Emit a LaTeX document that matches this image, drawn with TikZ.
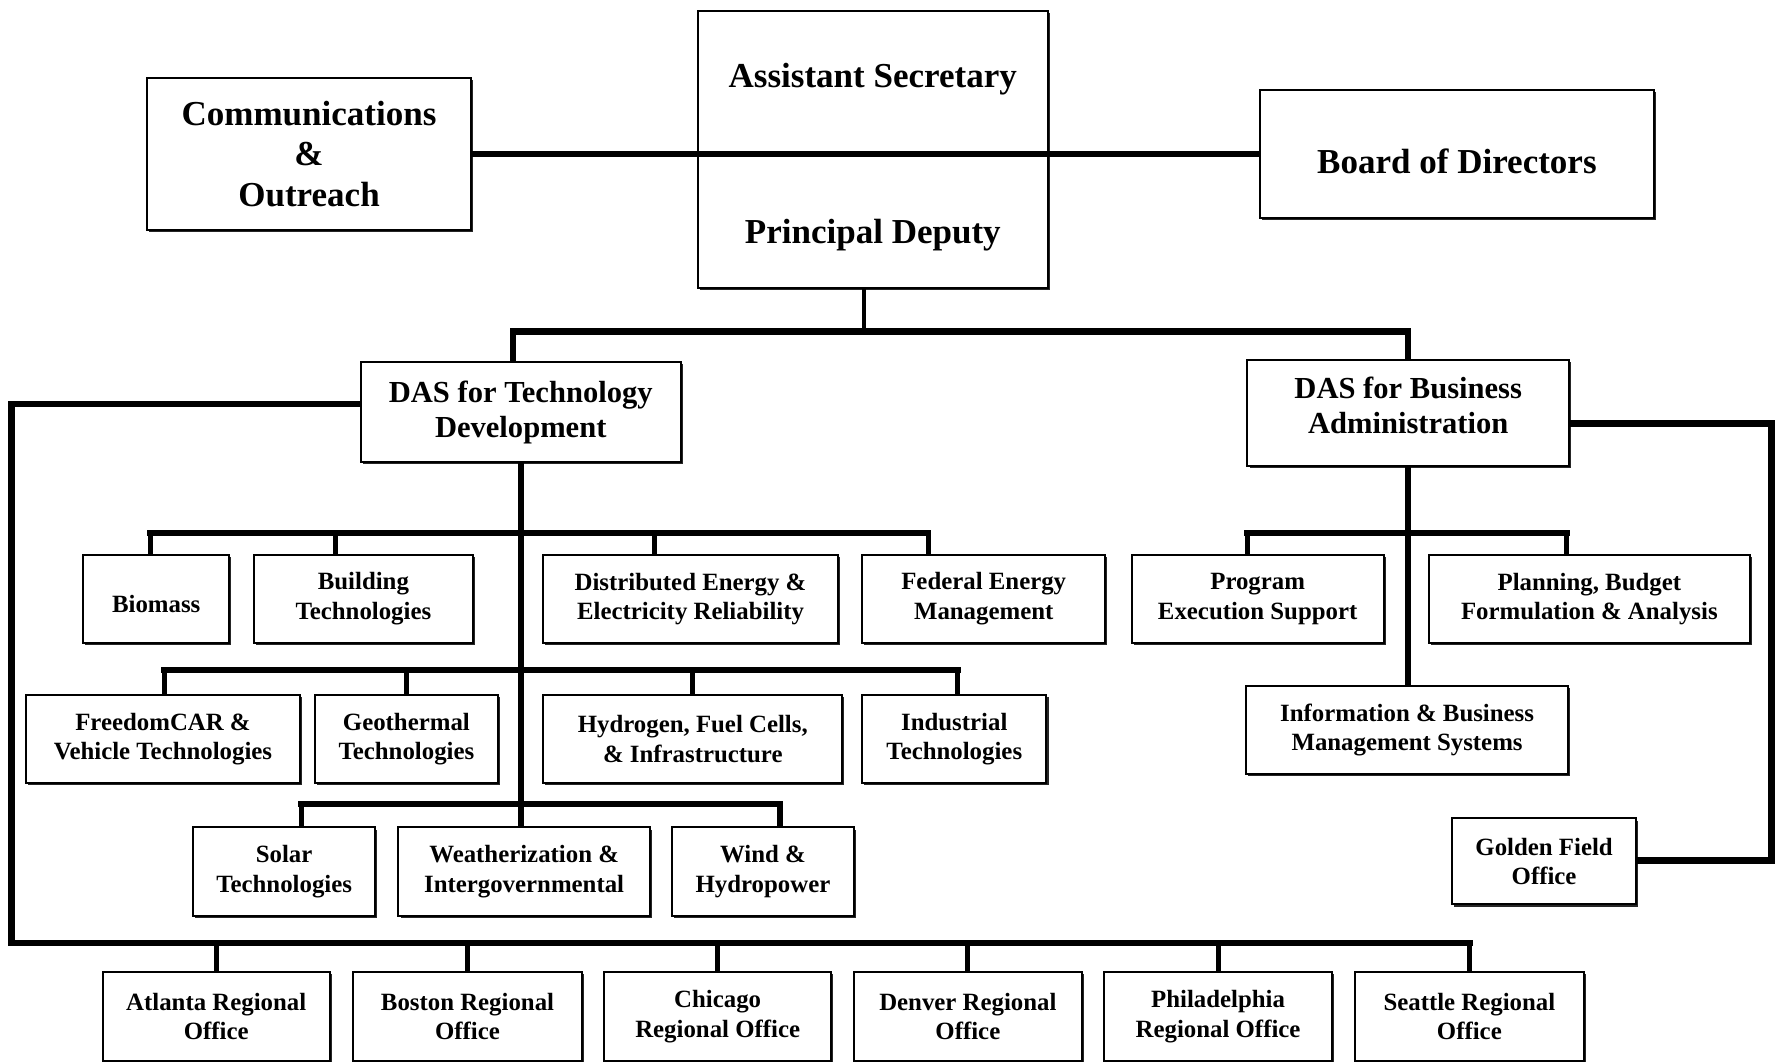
\documentclass[tikz,border=0pt]{standalone}
\usepackage{fontspec}
\setmainfont{Liberation Serif}
\usetikzlibrary{shadows}

\tikzset{
    box/.style={draw, line width=1.25pt, fill=white, align=center, inner sep=2pt,
        drop shadow={shadow xshift=1.3pt, shadow yshift=-1.3pt, fill=black, opacity=.85}},
    unit/.style={box, minimum height=1.95cm, font=\bfseries\fontsize{15.6}{18.5}\selectfont},
    das/.style={box, font=\bfseries\fontsize{19.2}{22}\selectfont},
    chief/.style={box, font=\bfseries\fontsize{22}{25.5}\selectfont},
    bar/.style={line width=4pt},
    rail/.style={bar, line cap=rect},
    drop/.style={line width=3.2pt},
}

\begin{document}
\begin{tikzpicture}[x=0.025cm, y=-0.025cm]
    \useasboundingbox (0, 0) rectangle (1568, 938);

    % top level
    \node (Top) [chief, minimum width=7.74cm, minimum height=6.1cm] at (771, 132) {\rule{0pt}{25pt}Assistant Secretary\\[72pt]Principal Deputy};
    \node (Communications) [chief, minimum width=7.14cm, minimum height=3.34cm] at (273, 136) {Communications\\\&\\Outreach};
    \node (Board) [chief, minimum width=8.7cm, minimum height=2.84cm] at (1287, 136) {\rule{0pt}{25pt}Board of Directors};

    % deputy assistant secretaries
    \node (DasTech) [das, minimum width=7.06cm, minimum height=2.22cm] at (460, 364) {DAS for Technology\\Development};
    \node (DasBusiness) [das, minimum width=7.1cm, minimum height=2.35cm] at (1244, 365) {DAS for Business\\Administration\rule[-10pt]{0pt}{0pt}};

    % technology programs
    \node (Biomass) [unit, minimum width=3.22cm] at (138, 529) {\rule{0pt}{17.5pt}Biomass};
    \node (Building) [unit, minimum width=4.85cm] at (321, 529) {Building\\Technologies};
    \node (Distributed) [unit, minimum width=6.52cm] at (610, 529) {Distributed Energy \&\\Electricity Reliability};
    \node (Federal) [unit, minimum width=5.37cm] at (869, 529) {Federal Energy\\Management};
    \node (FreedomCar) [unit, minimum width=6.05cm] at (144, 653) {FreedomCAR \&\\Vehicle Technologies};
    \node (Geothermal) [unit, minimum width=4.05cm] at (359, 653) {Geothermal\\Technologies};
    \node (Hydrogen) [unit, minimum width=6.6cm] at (612, 653) {Hydrogen, Fuel Cells,\\\& Infrastructure};
    \node (Industrial) [unit, minimum width=4.07cm] at (843, 653) {Industrial\\Technologies};
    \node (Solar) [unit, minimum width=4.02cm] at (251, 770) {Solar\\Technologies};
    \node (Weatherization) [unit, minimum width=5.55cm] at (463, 770) {Weatherization \&\\Intergovernmental};
    \node (Wind) [unit, minimum width=4.02cm] at (674, 770) {Wind \&\\Hydropower};

    % business offices
    \node (Program) [unit, minimum width=5.57cm] at (1111, 529) {Program\\Execution Support};
    \node (Planning) [unit, minimum width=7.1cm] at (1404, 529) {Planning, Budget\\Formulation \& Analysis};
    \node (Information) [unit, minimum width=7.1cm] at (1243, 645) {Information \& Business\\Management Systems};
    \node (Golden) [unit, minimum width=4.07cm, minimum height=1.9cm] at (1364, 761) {Golden Field\\Office};

    % regional offices
    \node (Atlanta) [unit, minimum width=5.02cm] at (191, 898) {Atlanta Regional\\Office};
    \node (Boston) [unit, minimum width=5.05cm] at (413, 898) {Boston Regional\\Office};
    \node (Chicago) [unit, minimum width=5cm] at (634, 898) {Chicago\\Regional Office};
    \node (Denver) [unit, minimum width=5.05cm] at (855, 898) {Denver Regional\\Office};
    \node (Philadelphia) [unit, minimum width=5.02cm] at (1076, 898) {Philadelphia\\Regional Office};
    \node (Seattle) [unit, minimum width=5.05cm] at (1298, 898) {Seattle Regional\\Office};

    % junction points
    \coordinate (Hub) at (763, 293);
    \coordinate (TechRowA) at (461, 471);
    \coordinate (TechRowB) at (461, 592);
    \coordinate (TechRowC) at (461, 710);
    \coordinate (BusinessRow) at (1245, 471);
    \coordinate (LeftCorner) at (10, 833);
    \coordinate (RightCorner) at (1565, 760);

    % top connectors
    \draw[bar] (Communications.east) -- (Board.west);
    \draw[line width=2.5pt] (Top.south -| Hub) -- (Hub);
    \draw[bar] (DasTech.north) ++(-7, 0) |- (Hub) -| (DasBusiness.north);

    % technology tree
    \draw[bar] (DasTech.south) -- (DasTech.south |- Weatherization.north);
    \draw[rail] (TechRowA -| 133, 0) -- (TechRowA -| 820, 0);
    \foreach \n/\x in {Biomass/133, Building/296, Distributed/578, Federal/820}
        \draw[drop] (TechRowA -| \x, 0) -- (\n.north -| \x, 0);
    \draw[rail] (TechRowB -| 145, 0) -- (TechRowB -| 846, 0);
    \foreach \n/\x in {FreedomCar/145, Geothermal/359, Hydrogen/612, Industrial/846}
        \draw[drop] (TechRowB -| \x, 0) -- (\n.north -| \x, 0);
    \draw[rail] (TechRowC -| 266, 0) -- (TechRowC -| 689, 0);
    \foreach \n/\x in {Solar/266, Wind/689}
        \draw[drop] (TechRowC -| \x, 0) -- (\n.north -| \x, 0);

    % regional offices bus
    \draw[bar] (DasTech.west) ++(0, -7) -| (LeftCorner);
    \draw[rail] (LeftCorner) -- (LeftCorner -| Seattle.north);
    \foreach \n in {Atlanta, Boston, Chicago, Denver, Philadelphia, Seattle}
        \draw[drop] (\n.north |- LeftCorner) -- (\n.north);

    % business tree
    \draw[bar] (DasBusiness.south) -- (DasBusiness.south |- Information.north);
    \draw[rail] (BusinessRow -| 1102, 0) -- (BusinessRow -| 1384, 0);
    \foreach \n/\x in {Program/1102, Planning/1384}
        \draw[drop] (BusinessRow -| \x, 0) -- (\n.north -| \x, 0);
    \draw[bar] (DasBusiness.east) ++(0, 9) -| (RightCorner) -- (Golden.east |- RightCorner);
\end{tikzpicture}
\end{document}
